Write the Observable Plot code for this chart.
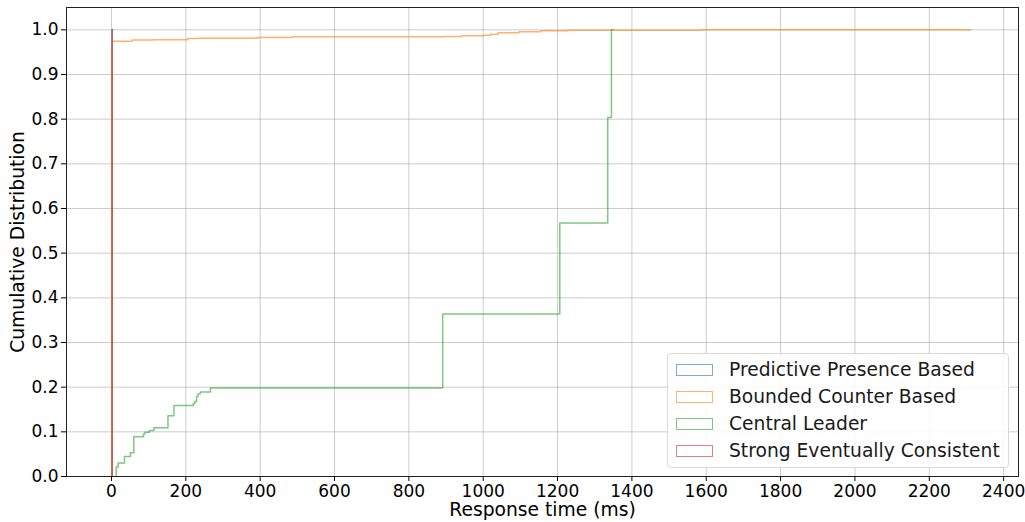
<!DOCTYPE html>
<html>
<head>
<meta charset="utf-8">
<script src="https://cdn.jsdelivr.net/npm/d3@7"></script>
<script src="https://cdn.jsdelivr.net/npm/@observablehq/plot@0.6"></script>
<style>
  html, body { margin: 0; padding: 0; background: #fff; }
  #wrap { position: relative; width: 1025px; height: 522px; font-family: "DejaVu Sans", sans-serif; }
  #legend { position: absolute; left: 667px; top: 353px; width: 342px; height: 115px; box-sizing: border-box;
            border: 1px solid #d9d9d9; border-radius: 4px; background: rgba(255,255,255,0.85); }
  .row { position: absolute; left: 0; height: 27px; display: flex; align-items: center; }
  .sw { position: absolute; left: 8px; width: 37px; height: 12px; box-sizing: border-box; }
  .lab { position: absolute; left: 61px; font-size: 18.7px; color: #1a1a1a; white-space: nowrap; line-height: 22px; }
</style>
</head>
<body>
<div id="wrap"></div>
<script>
// ---- data ----
const seriesNames = ["Predictive Presence Based", "Bounded Counter Based", "Central Leader", "Strong Eventually Consistent"];
const seriesColors = ["#1f77b4", "#ff7f0e", "#2ca02c", "#d62728"];

// bin edges (ms) where the cumulative step changes, and the cumulative value from that edge on
const predictiveEdges = [1.5, 3];
const predictiveCdf   = [1.0, 1.0];

const boundedEdges = [1, 56, 113, 205, 232, 394, 486, 894, 943, 1002, 1020, 1040, 1096, 1155, 1227, 1588, 2311];
const boundedCdf   = [0.9747, 0.977, 0.978, 0.9806, 0.9814, 0.9828, 0.9843, 0.985, 0.9866, 0.988, 0.990, 0.9933, 0.9955, 0.9978, 0.9993, 1.0, 1.0];

const leaderEdges = [12.7, 18, 35, 51, 60, 86, 90, 102, 114, 152, 168, 220, 224, 229, 233, 239, 266, 891, 1206, 1335, 1345, 1349];
const leaderCdf   = [0.021, 0.030, 0.045, 0.053, 0.089, 0.095, 0.099, 0.103, 0.109, 0.136, 0.159, 0.163, 0.168, 0.179, 0.185, 0.189, 0.198, 0.364, 0.5675, 0.804, 1.0, 1.0];

const strongEdges = [2, 3];
const strongCdf   = [1.0, 1.0];

const xTicks = [0, 200, 400, 600, 800, 1000, 1200, 1400, 1600, 1800, 2000, 2200, 2400];
const yTicks = [0.0, 0.1, 0.2, 0.3, 0.4, 0.5, 0.6, 0.7, 0.8, 0.9, 1.0];
const xLabel = "Response time (ms)";
const yLabel = "Cumulative Distribution";

// ---- build step rows ----
function stepRows(name, edges, cdf) {
  const rows = [{series: name, x: edges[0], y: 0}];
  edges.forEach((e, i) => rows.push({series: name, x: e, y: cdf[i]}));
  return rows;
}
const allSeries = [
  stepRows(seriesNames[0], predictiveEdges, predictiveCdf),
  stepRows(seriesNames[1], boundedEdges, boundedCdf),
  stepRows(seriesNames[2], leaderEdges, leaderCdf),
  stepRows(seriesNames[3], strongEdges, strongCdf)
];

const lineMarks = allSeries.map((rows, i) =>
  Plot.line(rows, {x: "x", y: "y", curve: "step-after", stroke: seriesColors[i], strokeWidth: 1.5, strokeOpacity: 0.6})
);

const chart = Plot.plot({
  width: 1025,
  height: 522,
  marginLeft: 66,
  marginRight: 7,
  marginTop: 7,
  marginBottom: 46,
  style: {fontFamily: "DejaVu Sans, sans-serif", fontSize: "17px", color: "#000", background: "#fff", overflow: "visible"},
  x: {domain: [-121, 2440]},
  y: {domain: [0, 1.05]},
  marks: [
    Plot.gridX(xTicks, {stroke: "#b0b0b0", strokeOpacity: 0.65, strokeWidth: 1}),
    Plot.gridY(yTicks, {stroke: "#b0b0b0", strokeOpacity: 0.65, strokeWidth: 1}),
    ...lineMarks,
    Plot.frame({stroke: "#222", strokeWidth: 1}),
    Plot.axisX(xTicks, {tickSize: 5, tickPadding: 3, fontSize: 17, label: null, tickFormat: d3.format("d")}),
    Plot.axisY(yTicks, {tickSize: 5, tickPadding: 3, fontSize: 17, label: null, tickFormat: d3.format(".1f")}),
    Plot.text([xLabel], {frameAnchor: "bottom", dy: 34, fontSize: 18.7, textAnchor: "middle", lineAnchor: "middle", fill: "#000"}),
    Plot.text([yLabel], {frameAnchor: "left", dx: -48, rotate: -90, fontSize: 18.7, textAnchor: "middle", lineAnchor: "middle", fill: "#000"})
  ]
});

const wrap = document.getElementById("wrap");
wrap.appendChild(chart);

// legend (outlined patches, as in the reference)
const legend = document.createElement("div");
legend.id = "legend";
seriesNames.forEach((name, i) => {
  const row = document.createElement("div");
  row.className = "row";
  row.style.top = (2 + i * 27.2) + "px";
  row.style.width = "100%";
  const sw = document.createElement("div");
  sw.className = "sw";
  sw.style.border = "1.5px solid " + seriesColors[i];
  sw.style.opacity = 0.6;
  const lab = document.createElement("div");
  lab.className = "lab";
  lab.textContent = name;
  row.appendChild(sw);
  row.appendChild(lab);
  legend.appendChild(row);
});
wrap.appendChild(legend);
</script>
</body>
</html>
